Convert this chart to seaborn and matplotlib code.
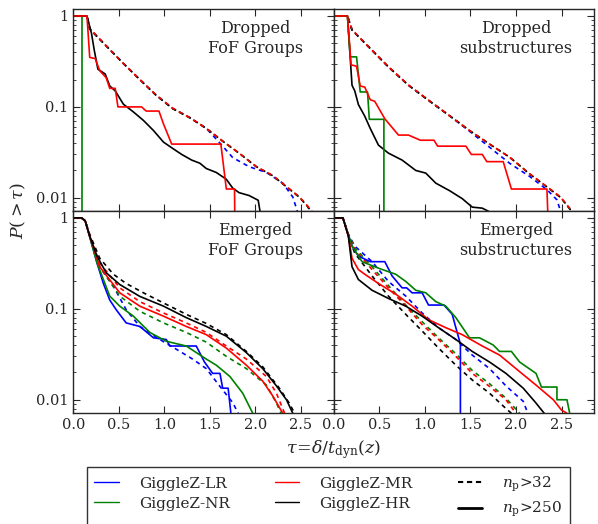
import matplotlib
matplotlib.use('Agg')
import matplotlib.pyplot as plt
import matplotlib.ticker as ticker
from matplotlib.lines import Line2D
import seaborn as sns

# ---- Dropped FoF groups (top left) ----
dfof_lr_32_x = [0, 0.15, 0.18, 0.36, 0.55, 0.73, 0.91, 1.09, 1.28, 1.46, 1.62, 1.75, 1.93, 2.12, 2.30, 2.41, 2.46]
dfof_lr_32_y = [1, 1, 0.72, 0.47, 0.30, 0.20, 0.134, 0.096, 0.076, 0.058, 0.039, 0.0277, 0.022, 0.019, 0.0145, 0.0102, 0.0071]
dfof_nr_32_x = [0, 0.15, 0.18, 0.36, 0.55, 0.73, 0.91, 1.09, 1.28, 1.46, 1.64, 1.82, 2.01, 2.19, 2.37, 2.48, 2.57, 2.60]
dfof_nr_32_y = [1, 1, 0.72, 0.47, 0.30, 0.20, 0.134, 0.096, 0.076, 0.058, 0.042, 0.031, 0.022, 0.0175, 0.0125, 0.0102, 0.0081, 0.0071]
dfof_mr_32_x = [0, 0.15, 0.18, 0.36, 0.55, 0.73, 0.91, 1.09, 1.28, 1.46, 1.64, 1.82, 2.01, 2.19, 2.37, 2.48, 2.57, 2.62]
dfof_mr_32_y = [1, 1, 0.73, 0.47, 0.30, 0.20, 0.135, 0.097, 0.076, 0.058, 0.042, 0.031, 0.022, 0.0176, 0.0126, 0.0103, 0.0082, 0.0071]
dfof_hr_32_x = [0, 0.15, 0.18, 0.36, 0.55, 0.73, 0.91, 1.09, 1.28, 1.46, 1.64, 1.82, 2.01, 2.19, 2.37, 2.48, 2.57, 2.61]
dfof_hr_32_y = [1, 1, 0.72, 0.47, 0.30, 0.20, 0.134, 0.096, 0.076, 0.058, 0.042, 0.031, 0.022, 0.0175, 0.0125, 0.0102, 0.0081, 0.0071]
dfof_nr_250_x = [0, 0.10, 0.10]
dfof_nr_250_y = [1, 1, 0.001]
dfof_mr_250_x = [0, 0.15, 0.18, 0.24, 0.29, 0.36, 0.40, 0.46, 0.49, 0.75, 0.80, 0.94, 0.99, 1.08, 1.62, 1.68, 1.77, 1.78]
dfof_mr_250_y = [1, 1, 0.35, 0.34, 0.25, 0.21, 0.16, 0.16, 0.10, 0.10, 0.09, 0.09, 0.065, 0.039, 0.039, 0.0125, 0.0125, 0.001]
dfof_hr_250_x = [0, 0.15, 0.20, 0.23, 0.27, 0.35, 0.40, 0.46, 0.55, 0.66, 0.77, 0.88, 0.99, 1.09, 1.19, 1.30, 1.39,
                 1.46, 1.57, 1.68, 1.75, 1.82, 1.93, 2.03, 2.05]
dfof_hr_250_y = [1, 1, 0.64, 0.42, 0.26, 0.23, 0.17, 0.15, 0.107, 0.088, 0.071, 0.055, 0.041, 0.035, 0.030, 0.026, 0.024,
                 0.021, 0.019, 0.016, 0.0128, 0.0114, 0.0106, 0.0094, 0.0071]

# ---- Dropped substructures (top right) ----
dsub_lr_32_x = [0, 0.15, 0.20, 0.38, 0.60, 0.82, 1.04, 1.27, 1.49, 1.71, 1.93, 2.15, 2.34, 2.45, 2.49]
dsub_lr_32_y = [1, 1, 0.70, 0.46, 0.275, 0.173, 0.118, 0.080, 0.054, 0.036, 0.024, 0.0172, 0.0123, 0.0095, 0.0071]
dsub_nr_32_x = [0, 0.15, 0.20, 0.38, 0.60, 0.82, 1.04, 1.27, 1.49, 1.71, 1.93, 2.15, 2.37, 2.49, 2.58, 2.61]
dsub_nr_32_y = [1, 1, 0.70, 0.46, 0.275, 0.173, 0.118, 0.080, 0.055, 0.039, 0.028, 0.0183, 0.0125, 0.0101, 0.0078, 0.0071]
dsub_mr_32_x = [0, 0.15, 0.20, 0.38, 0.60, 0.82, 1.04, 1.27, 1.49, 1.71, 1.93, 2.15, 2.37, 2.49, 2.58, 2.62]
dsub_mr_32_y = [1, 1, 0.71, 0.46, 0.276, 0.174, 0.119, 0.080, 0.055, 0.039, 0.028, 0.0184, 0.0126, 0.0102, 0.0079, 0.0071]
dsub_hr_32_x = [0, 0.15, 0.20, 0.38, 0.60, 0.82, 1.04, 1.27, 1.49, 1.71, 1.93, 2.15, 2.37, 2.49, 2.58, 2.61]
dsub_hr_32_y = [1, 1, 0.70, 0.46, 0.275, 0.173, 0.118, 0.080, 0.055, 0.039, 0.028, 0.0183, 0.0125, 0.0101, 0.0078, 0.0071]
dsub_nr_250_x = [0, 0.15, 0.18, 0.25, 0.29, 0.37, 0.39, 0.55, 0.55]
dsub_nr_250_y = [1, 1, 0.355, 0.355, 0.146, 0.146, 0.073, 0.073, 0.001]
dsub_mr_250_x = [0, 0.15, 0.19, 0.25, 0.29, 0.34, 0.40, 0.45, 0.56, 0.71, 0.82, 0.95, 1.10, 1.14, 1.45, 1.51, 1.63,
                 1.68, 1.86, 1.95, 2.34, 2.38]
dsub_mr_250_y = [1, 1, 0.29, 0.28, 0.17, 0.165, 0.12, 0.115, 0.074, 0.049, 0.049, 0.043, 0.043, 0.037, 0.037, 0.030, 0.030,
                 0.025, 0.025, 0.0125, 0.0125, 0.001]
dsub_hr_250_x = [0, 0.15, 0.20, 0.23, 0.27, 0.34, 0.40, 0.49, 0.60, 0.75, 0.90, 1.01, 1.12, 1.27, 1.41, 1.52, 1.63, 1.70]
dsub_hr_250_y = [1, 1, 0.173, 0.15, 0.106, 0.079, 0.058, 0.038, 0.031, 0.026, 0.020, 0.0187, 0.0145, 0.012, 0.0098,
                 0.0079, 0.0077, 0.0071]

# ---- Emerged FoF groups (bottom left) ----
efof_lr_32_x = [0, 0.09, 0.13, 0.18, 0.29, 0.44, 0.58, 0.73, 0.95, 1.13, 1.31, 1.46, 1.61, 1.75, 1.81]
efof_lr_32_y = [1, 1, 0.93, 0.64, 0.29, 0.177, 0.098, 0.064, 0.046, 0.036, 0.028, 0.022, 0.014, 0.0093, 0.0071]
efof_nr_32_x = [0, 0.09, 0.13, 0.18, 0.29, 0.51, 0.73, 0.99, 1.24, 1.46, 1.68, 1.90, 2.12, 2.23, 2.28]
efof_nr_32_y = [1, 1, 0.93, 0.63, 0.29, 0.138, 0.094, 0.070, 0.055, 0.043, 0.030, 0.022, 0.0145, 0.0092, 0.0071]
efof_mr_32_x = [0, 0.09, 0.13, 0.18, 0.29, 0.51, 0.73, 0.99, 1.24, 1.46, 1.68, 1.90, 2.12, 2.23, 2.32]
efof_mr_32_y = [1, 1, 0.93, 0.64, 0.32, 0.17, 0.12, 0.09, 0.07, 0.055, 0.039, 0.028, 0.018, 0.0118, 0.0071]
efof_hr_32_x = [0, 0.09, 0.13, 0.18, 0.29, 0.44, 0.58, 0.77, 0.99, 1.24, 1.46, 1.68, 1.90, 2.08, 2.26, 2.37, 2.43]
efof_hr_32_y = [1, 1, 0.93, 0.66, 0.36, 0.24, 0.19, 0.15, 0.116, 0.087, 0.069, 0.052, 0.034, 0.023, 0.0135, 0.0092, 0.0071]
efof_lr_250_x = [0, 0.09, 0.13, 0.18, 0.26, 0.33, 0.40, 0.47, 0.58, 0.73, 0.88, 1.02, 1.06, 1.35, 1.44, 1.53, 1.61,
                 1.64, 1.70, 1.73]
efof_lr_250_y = [1, 1, 0.93, 0.62, 0.32, 0.19, 0.125, 0.098, 0.07, 0.064, 0.048, 0.046, 0.039, 0.039, 0.026, 0.0195,
                 0.0195, 0.0134, 0.0134, 0.0071]
efof_nr_250_x = [0, 0.09, 0.13, 0.18, 0.26, 0.40, 0.51, 0.66, 0.84, 1.02, 1.24, 1.46, 1.57, 1.72, 1.86, 1.97]
efof_nr_250_y = [1, 1, 0.93, 0.62, 0.32, 0.138, 0.107, 0.083, 0.055, 0.044, 0.039, 0.028, 0.024, 0.018, 0.0118, 0.0071]
efof_mr_250_x = [0, 0.09, 0.13, 0.18, 0.29, 0.51, 0.73, 0.99, 1.24, 1.46, 1.68, 1.90, 2.08, 2.19, 2.30]
efof_mr_250_y = [1, 1, 0.93, 0.63, 0.29, 0.15, 0.107, 0.083, 0.064, 0.052, 0.037, 0.024, 0.016, 0.011, 0.0071]
efof_hr_250_x = [0, 0.09, 0.13, 0.18, 0.26, 0.36, 0.51, 0.73, 0.99, 1.24, 1.46, 1.68, 1.90, 2.08, 2.23, 2.34, 2.41]
efof_hr_250_y = [1, 1, 0.93, 0.63, 0.38, 0.25, 0.185, 0.137, 0.107, 0.080, 0.064, 0.050, 0.033, 0.022, 0.0142, 0.010, 0.0071]

# ---- Emerged substructures (bottom right) ----
esub_lr_32_x = [0, 0.10, 0.16, 0.23, 0.42, 0.60, 0.79, 0.97, 1.15, 1.34, 1.52, 1.71, 1.89, 2.08, 2.13]
esub_lr_32_y = [1, 1, 0.66, 0.49, 0.33, 0.20, 0.138, 0.09, 0.062, 0.046, 0.031, 0.022, 0.0142, 0.0096, 0.0071]
esub_nr_32_x = [0, 0.10, 0.16, 0.23, 0.42, 0.60, 0.79, 0.97, 1.15, 1.34, 1.52, 1.71, 1.89, 2.04]
esub_nr_32_y = [1, 1, 0.66, 0.47, 0.29, 0.18, 0.11, 0.072, 0.048, 0.032, 0.021, 0.015, 0.0104, 0.0071]
esub_mr_32_x = [0, 0.10, 0.16, 0.23, 0.42, 0.60, 0.79, 0.97, 1.15, 1.34, 1.52, 1.71, 1.89, 2.00]
esub_mr_32_y = [1, 1, 0.65, 0.45, 0.27, 0.17, 0.107, 0.067, 0.046, 0.030, 0.0195, 0.014, 0.010, 0.0071]
esub_hr_32_x = [0, 0.10, 0.16, 0.23, 0.42, 0.60, 0.79, 0.97, 1.15, 1.34, 1.52, 1.71, 1.89, 1.95]
esub_hr_32_y = [1, 1, 0.63, 0.41, 0.23, 0.138, 0.087, 0.057, 0.037, 0.024, 0.0165, 0.0118, 0.008, 0.0071]
esub_lr_250_x = [0, 0.10, 0.16, 0.20, 0.27, 0.40, 0.56, 0.64, 0.75, 0.80, 0.86, 0.97, 1.04, 1.21, 1.30, 1.34, 1.39, 1.39]
esub_lr_250_y = [1, 1, 0.65, 0.49, 0.38, 0.33, 0.33, 0.23, 0.17, 0.17, 0.15, 0.15, 0.11, 0.11, 0.087, 0.062, 0.041, 0.001]
esub_nr_250_x = [0, 0.10, 0.16, 0.20, 0.31, 0.49, 0.68, 0.79, 0.90, 1.01, 1.12, 1.23, 1.34, 1.49, 1.60, 1.75, 1.82,
                 1.95, 2.04, 2.22, 2.28, 2.45, 2.45, 2.56, 2.59]
esub_nr_250_y = [1, 1, 0.65, 0.49, 0.33, 0.28, 0.24, 0.20, 0.16, 0.15, 0.12, 0.107, 0.08, 0.048, 0.048, 0.040, 0.034,
                 0.034, 0.026, 0.0195, 0.0138, 0.0138, 0.010, 0.010, 0.0071]
esub_mr_250_x = [0, 0.10, 0.16, 0.20, 0.27, 0.34, 0.49, 0.68, 0.86, 1.04, 1.23, 1.41, 1.63, 1.82, 2.00, 2.22, 2.41,
                 2.50, 2.56]
esub_mr_250_y = [1, 1, 0.63, 0.36, 0.27, 0.24, 0.19, 0.145, 0.107, 0.076, 0.062, 0.052, 0.039, 0.031, 0.022, 0.0145,
                 0.010, 0.0077, 0.0071]
esub_hr_250_x = [0, 0.10, 0.16, 0.20, 0.27, 0.42, 0.60, 0.79, 0.97, 1.15, 1.34, 1.52, 1.71, 1.89, 2.08, 2.22, 2.31]
esub_hr_250_y = [1, 1, 0.63, 0.29, 0.21, 0.16, 0.13, 0.107, 0.083, 0.062, 0.046, 0.034, 0.026, 0.0195, 0.0134, 0.0092,
                 0.0071]

sim_names = ['GiggleZ-LR', 'GiggleZ-NR', 'GiggleZ-MR', 'GiggleZ-HR']
sim_colors = ['blue', 'green', 'red', 'black']
panel_titles = ['Dropped\nFoF Groups', 'Dropped\nsubstructures', 'Emerged\nFoF Groups', 'Emerged\nsubstructures']

sns.set_style('ticks')
plt.rcParams['font.family'] = ['DejaVu Serif']
plt.rcParams['mathtext.fontset'] = 'dejavuserif'
plt.rcParams['xtick.direction'] = 'in'
plt.rcParams['ytick.direction'] = 'in'

fig, axes = plt.subplots(2, 2, figsize=(5.98, 5.24), dpi=100)
fig.subplots_adjust(left=0.1226, right=0.9938, top=0.982, bottom=0.2113, wspace=0, hspace=0)

# (x, y, sim index, dashed?) per panel
panels = [
    [(dfof_lr_32_x, dfof_lr_32_y, 0, True), (dfof_nr_32_x, dfof_nr_32_y, 1, True),
     (dfof_hr_32_x, dfof_hr_32_y, 3, True), (dfof_mr_32_x, dfof_mr_32_y, 2, True),
     (dfof_nr_250_x, dfof_nr_250_y, 1, False), (dfof_hr_250_x, dfof_hr_250_y, 3, False),
     (dfof_mr_250_x, dfof_mr_250_y, 2, False)],
    [(dsub_lr_32_x, dsub_lr_32_y, 0, True), (dsub_nr_32_x, dsub_nr_32_y, 1, True),
     (dsub_hr_32_x, dsub_hr_32_y, 3, True), (dsub_mr_32_x, dsub_mr_32_y, 2, True),
     (dsub_hr_250_x, dsub_hr_250_y, 3, False), (dsub_nr_250_x, dsub_nr_250_y, 1, False),
     (dsub_mr_250_x, dsub_mr_250_y, 2, False)],
    [(efof_lr_32_x, efof_lr_32_y, 0, True), (efof_nr_32_x, efof_nr_32_y, 1, True),
     (efof_mr_32_x, efof_mr_32_y, 2, True), (efof_hr_32_x, efof_hr_32_y, 3, True),
     (efof_lr_250_x, efof_lr_250_y, 0, False), (efof_nr_250_x, efof_nr_250_y, 1, False),
     (efof_mr_250_x, efof_mr_250_y, 2, False), (efof_hr_250_x, efof_hr_250_y, 3, False)],
    [(esub_lr_32_x, esub_lr_32_y, 0, True), (esub_nr_32_x, esub_nr_32_y, 1, True),
     (esub_mr_32_x, esub_mr_32_y, 2, True), (esub_hr_32_x, esub_hr_32_y, 3, True),
     (esub_lr_250_x, esub_lr_250_y, 0, False), (esub_nr_250_x, esub_nr_250_y, 1, False),
     (esub_mr_250_x, esub_mr_250_y, 2, False), (esub_hr_250_x, esub_hr_250_y, 3, False)],
]
dash_offsets = [0.3, 0.6, 0.9, 0.0]

for k, ax in enumerate(axes.flat):
    for x, y, s, dashed in panels[k]:
        ls = (dash_offsets[s], (2.6, 2.4)) if dashed else '-'
        sns.lineplot(x=x, y=y, ax=ax, color=sim_colors[s], lw=1.2, linestyle=ls,
                     estimator=None, sort=False)
    ax.set_yscale('log')
    ax.set_xlim(0, 2.86)
    ax.set_ylim(0.0071, 1.18)
    ax.set_xticks([0, 0.5, 1.0, 1.5, 2.0, 2.5])
    ax.xaxis.set_minor_locator(ticker.NullLocator())
    ax.yaxis.set_major_locator(ticker.FixedLocator([0.01, 0.1, 1]))
    ax.yaxis.set_major_formatter(ticker.FuncFormatter(lambda v, p: f'{v:g}'))
    ax.yaxis.set_minor_formatter(ticker.NullFormatter())
    ax.tick_params(which='both', top=True, right=True, labelsize=10.5)
    ax.tick_params(which='major', length=5, width=0.8)
    ax.tick_params(which='minor', length=2.5, width=0.6)
    ax.xaxis.set_major_formatter(ticker.FormatStrFormatter('%.1f'))
    ax.set_xlabel('')
    ax.set_ylabel('')
    if k < 2:
        ax.tick_params(labelbottom=False)
    if k % 2 == 1:
        ax.tick_params(labelleft=False)
    ax.text(0.70, 0.855, panel_titles[k], transform=ax.transAxes, ha='center', va='center',
            multialignment='center', fontsize=11.5, linespacing=1.25)
    for sp in ax.spines.values():
        sp.set_linewidth(1.0)

fig.text(0.558, 0.142, r'$\tau\!=\!\delta/t_{\rm dyn}(z)$', ha='center', va='center', fontsize=12.5)
fig.text(0.03, 0.598, r'$P(>\tau)$', ha='center', va='center', rotation=90, fontsize=12.5)

handles = [Line2D([], [], color=sim_colors[0], lw=1.0), Line2D([], [], color=sim_colors[1], lw=1.0),
           Line2D([], [], color=sim_colors[2], lw=1.0), Line2D([], [], color=sim_colors[3], lw=1.0),
           Line2D([], [], color='black', lw=1.5, linestyle=(0, (2.5, 1.8))),
           Line2D([], [], color='black', lw=2.0)]
labels = [sim_names[0], sim_names[1], sim_names[2], sim_names[3],
          r'$n_{\rm p}$>32', r'$n_{\rm p}$>250']
leg = fig.legend(handles, labels, loc='upper left', bbox_to_anchor=(0.145, -0.2, 0.808, 0.3088),
                 mode='expand', ncol=3, fontsize=11, frameon=True, fancybox=False, borderaxespad=0,
                 handlelength=1.6, handletextpad=1.3, borderpad=0.5, labelspacing=0.4)
leg.get_frame().set_edgecolor('black')
leg.get_frame().set_linewidth(1.0)

fig.savefig('out.png', dpi=100)
